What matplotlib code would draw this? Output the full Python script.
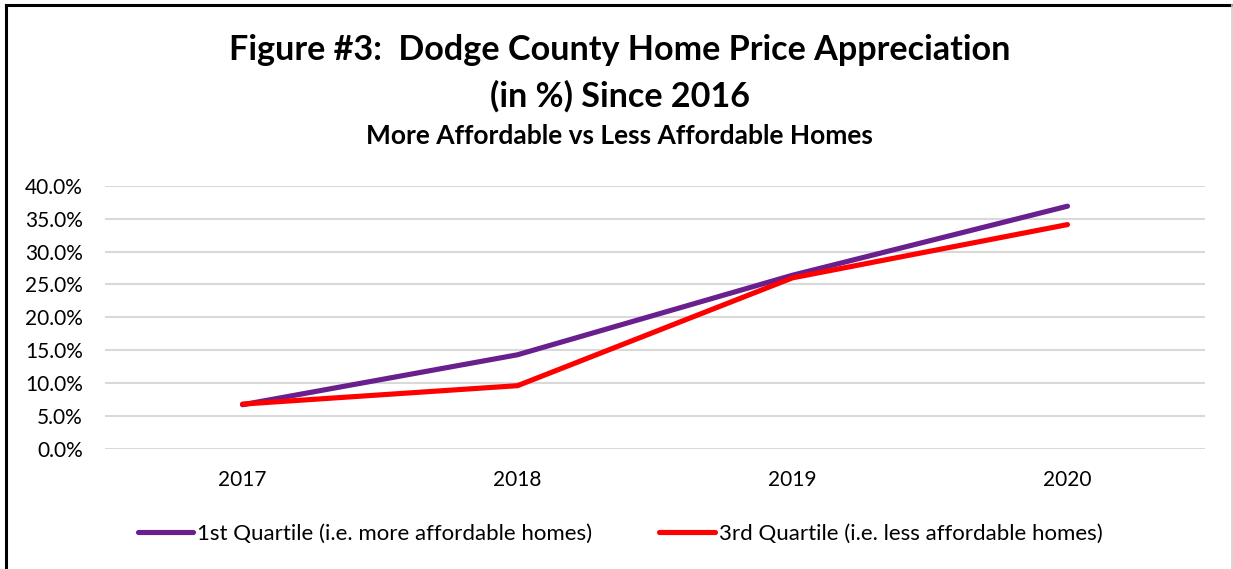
import matplotlib
matplotlib.use("Agg")
import matplotlib.pyplot as plt
from matplotlib.lines import Line2D

years = ["2017", "2018", "2019", "2020"]
q1_values = [6.7, 14.3, 26.4, 36.9]   # 1st quartile, more affordable
q3_values = [6.8, 9.6, 26.0, 34.1]    # 3rd quartile, less affordable
y_ticks = [0, 5, 10, 15, 20, 25, 30, 35, 40]

title_1 = "Figure #3:  Dodge County Home Price Appreciation"
title_2 = "(in %) Since 2016"
subtitle = "More Affordable vs Less Affordable Homes"
q1_label = "1st Quartile (i.e. more affordable homes)"
q3_label = "3rd Quartile (i.e. less affordable homes)"

plt.rcParams['font.family'] = ['Lato', 'DejaVu Sans']

W, H = 1233, 569
fig = plt.figure(figsize=(W / 100, H / 100), dpi=100)

# outer frame: black top/left, grey right edge
fig.add_artist(Line2D([6 / W, 6 / W], [0, 1 - 5 / H], color='black', lw=2.2))
fig.add_artist(Line2D([6 / W, 1], [1 - 5 / H, 1 - 5 / H], color='black', lw=2.2))
fig.add_artist(Line2D([1 - 1 / W, 1 - 1 / W], [0, 1 - 5 / H], color='#d0d0d0', lw=1.2))

ax = fig.add_axes([105 / W, 1 - 448.8 / H, 1100 / W, (448.8 - 185.8) / H])
x = range(len(years))
ax.plot(x, q1_values, color='#6A1F8E', lw=3.7, solid_capstyle='round', label=q1_label)
ax.plot(x, q3_values, color='#FF0000', lw=3.7, solid_capstyle='round', label=q3_label)

ax.set_xlim(-0.5, len(years) - 0.5)
ax.set_ylim(0, 40)
ax.set_xticks(list(x))
ax.set_xticklabels(years)
ax.set_yticks(y_ticks)
ax.set_yticklabels([f"{v:.1f}%" for v in y_ticks])
ax.tick_params(axis='both', length=0, labelsize=15, colors='black')
ax.tick_params(axis='y', pad=16)
ax.tick_params(axis='x', pad=15)
ax.grid(True, axis='y', color='#d9d9d9', lw=1.5)
ax.set_axisbelow(True)
for s in ax.spines.values():
    s.set_visible(False)

fig.text(0.5025, 1 - 50 / H, title_1, ha='center', va='center', fontsize=24.6, fontweight='bold')
fig.text(0.5025, 1 - 96 / H, title_2, ha='center', va='center', fontsize=24.6, fontweight='bold')
fig.text(0.5025, 1 - 136 / H, subtitle, ha='center', va='center', fontsize=19, fontweight='bold')

fig.legend(loc='center', bbox_to_anchor=(0.503, 1 - 534 / H), ncol=2, frameon=False,
           fontsize=16, handlelength=2.5, handletextpad=0.18, columnspacing=3.0)

fig.savefig("out.png", dpi=100)
